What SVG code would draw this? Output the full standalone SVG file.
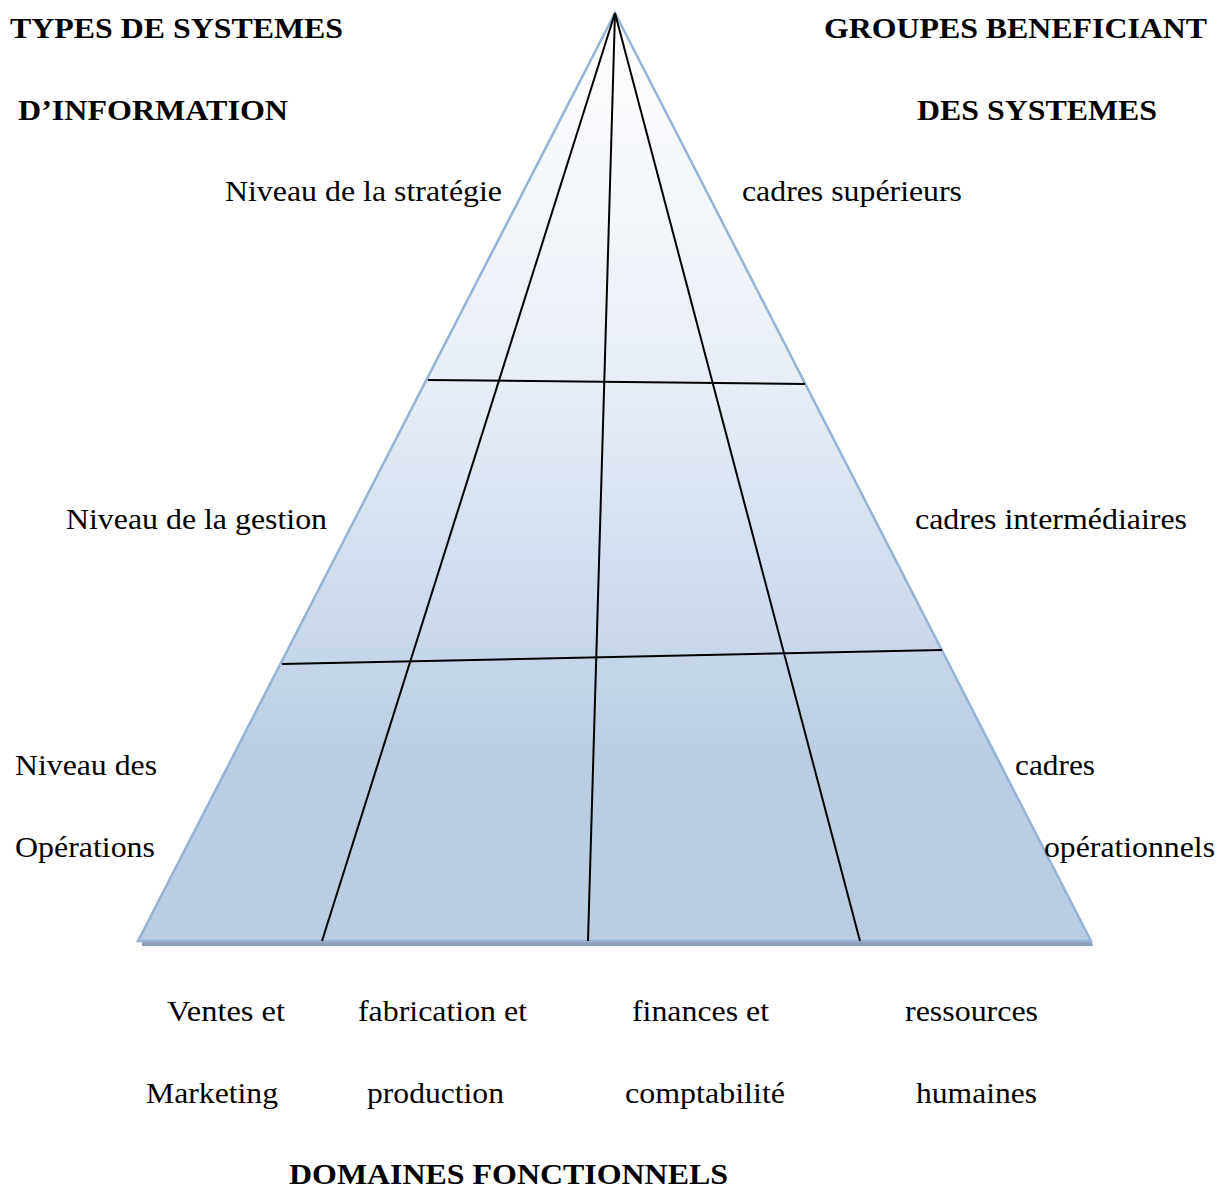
<svg xmlns="http://www.w3.org/2000/svg" width="1228" height="1188" viewBox="0 0 1228 1188">
<defs>
<linearGradient id="fillg" gradientUnits="userSpaceOnUse" x1="0" y1="13" x2="0" y2="941">
<stop offset="0" stop-color="#ffffff"/>
<stop offset="0.4" stop-color="#e8eef6"/>
<stop offset="0.7" stop-color="#c6d6ea"/>
<stop offset="0.8" stop-color="#b9cde5"/>
<stop offset="1" stop-color="#b9cde5"/>
</linearGradient>
</defs>
<style>
.t{font-family:"Liberation Serif","Times New Roman",serif;font-size:30px;fill:#000}
.b{font-weight:bold}
.ln{stroke:#000;stroke-width:2;fill:none}
</style>
<rect width="1228" height="1188" fill="#ffffff"/>
<g id="pyramid">
<polygon points="142,942 1092,942 1093,946 142,946" fill="#8d9fb7"/>
<polygon points="615,13 1091,941 138,941" fill="url(#fillg)" stroke="#95b3d7" stroke-width="2.5" stroke-linejoin="miter"/>
</g>
<g id="connectors">
<line class="ln" x1="615" y1="13" x2="322" y2="941"/>
<line class="ln" x1="615" y1="13" x2="588" y2="941"/>
<line class="ln" x1="615" y1="13" x2="860" y2="941"/>
<line class="ln" x1="428" y1="380" x2="805" y2="384"/>
<line class="ln" x1="282" y1="664" x2="942" y2="650"/>
</g>
<g id="header-left">
<text class="t b" x="10" y="38" textLength="333" lengthAdjust="spacingAndGlyphs">TYPES DE SYSTEMES</text>
<text class="t b" x="18" y="120" textLength="270" lengthAdjust="spacingAndGlyphs">D’INFORMATION</text>
</g>
<g id="header-right">
<text class="t b" x="824" y="38" textLength="383" lengthAdjust="spacingAndGlyphs">GROUPES BENEFICIANT</text>
<text class="t b" x="917" y="120" textLength="240" lengthAdjust="spacingAndGlyphs">DES SYSTEMES</text>
</g>
<g id="levels">
<text class="t" x="225" y="201" textLength="277" lengthAdjust="spacingAndGlyphs">Niveau de la stratégie</text>
<text class="t" x="66" y="529" textLength="261" lengthAdjust="spacingAndGlyphs">Niveau de la gestion</text>
<text class="t" x="15" y="775" textLength="142" lengthAdjust="spacingAndGlyphs">Niveau des</text>
<text class="t" x="15" y="857" textLength="140" lengthAdjust="spacingAndGlyphs">Opérations</text>
</g>
<g id="groups">
<text class="t" x="742" y="201" textLength="220" lengthAdjust="spacingAndGlyphs">cadres supérieurs</text>
<text class="t" x="915" y="529" textLength="272" lengthAdjust="spacingAndGlyphs">cadres intermédiaires</text>
<text class="t" x="1015" y="775" textLength="80" lengthAdjust="spacingAndGlyphs">cadres</text>
<text class="t" x="1044" y="857" textLength="171" lengthAdjust="spacingAndGlyphs">opérationnels</text>
</g>
<g id="domains">
<text class="t" x="167" y="1021" textLength="118" lengthAdjust="spacingAndGlyphs">Ventes et</text>
<text class="t" x="146" y="1103" textLength="132" lengthAdjust="spacingAndGlyphs">Marketing</text>
<text class="t" x="358" y="1021" textLength="169" lengthAdjust="spacingAndGlyphs">fabrication et</text>
<text class="t" x="367" y="1103" textLength="137" lengthAdjust="spacingAndGlyphs">production</text>
<text class="t" x="632" y="1021" textLength="137" lengthAdjust="spacingAndGlyphs">finances et</text>
<text class="t" x="625" y="1103" textLength="160" lengthAdjust="spacingAndGlyphs">comptabilité</text>
<text class="t" x="905" y="1021" textLength="133" lengthAdjust="spacingAndGlyphs">ressources</text>
<text class="t" x="916" y="1103" textLength="121" lengthAdjust="spacingAndGlyphs">humaines</text>
</g>
<g id="footer">
<text class="t b" x="289" y="1184" textLength="439" lengthAdjust="spacingAndGlyphs">DOMAINES FONCTIONNELS</text>
</g>
</svg>
